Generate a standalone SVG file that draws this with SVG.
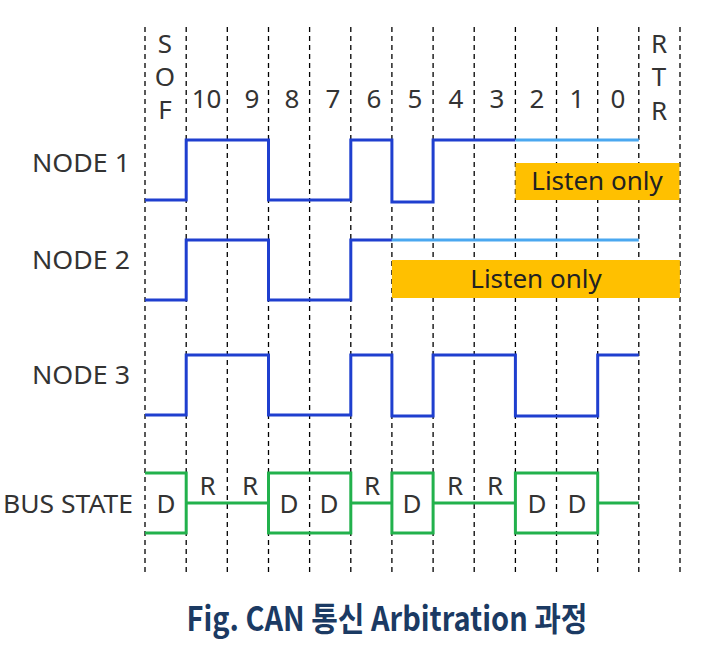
<svg xmlns="http://www.w3.org/2000/svg" width="712" height="659" viewBox="0 0 712 659">
<style>
.grid{stroke:#000;stroke-width:1.3;stroke-dasharray:5 4;fill:none}
.lbl{font-family:"Noto Sans","Liberation Sans",sans-serif;font-size:26px;fill:#333;text-anchor:end}
.bit{font-family:"Noto Sans","Liberation Sans",sans-serif;font-size:26px;fill:#333;text-anchor:middle}
.wave{stroke:#1f3fcf;stroke-width:3;fill:none}
.lite{stroke:#4aa8f0;stroke-width:3;fill:none}
.bus{stroke:#22b14c;stroke-width:3;fill:none}
.box{fill:#ffc000}
.lo{font-family:"Noto Sans","Liberation Sans",sans-serif;font-size:26px;fill:#222;text-anchor:middle}
</style>
<rect width="712" height="659" fill="#fff"/>
<g id="grid" class="grid">
<line x1="145" y1="27" x2="145" y2="572"/>
<line x1="186.2" y1="27" x2="186.2" y2="572"/>
<line x1="227.3" y1="27" x2="227.3" y2="572"/>
<line x1="268.5" y1="27" x2="268.5" y2="572"/>
<line x1="309.6" y1="27" x2="309.6" y2="572"/>
<line x1="350.8" y1="27" x2="350.8" y2="572"/>
<line x1="391.9" y1="27" x2="391.9" y2="572"/>
<line x1="433.1" y1="27" x2="433.1" y2="572"/>
<line x1="474.2" y1="27" x2="474.2" y2="572"/>
<line x1="515.4" y1="27" x2="515.4" y2="572"/>
<line x1="556.5" y1="27" x2="556.5" y2="572"/>
<line x1="597.7" y1="27" x2="597.7" y2="572"/>
<line x1="638.8" y1="27" x2="638.8" y2="572"/>
<line x1="680" y1="27" x2="680" y2="572"/>
</g>
<g id="bits">
<text class="bit" x="165" y="53">S</text>
<text class="bit" x="165" y="86">O</text>
<text class="bit" x="165" y="119">F</text>
<text class="bit" x="206.5" y="108">10</text>
<text class="bit" x="252" y="108">9</text>
<text class="bit" x="292" y="108">8</text>
<text class="bit" x="333" y="108">7</text>
<text class="bit" x="374" y="108">6</text>
<text class="bit" x="415" y="108">5</text>
<text class="bit" x="456" y="108">4</text>
<text class="bit" x="497" y="108">3</text>
<text class="bit" x="537" y="108">2</text>
<text class="bit" x="577" y="108">1</text>
<text class="bit" x="618" y="108">0</text>
<text class="bit" x="659" y="53">R</text>
<text class="bit" x="659" y="86">T</text>
<text class="bit" x="659" y="120">R</text>
</g>
<g id="node1">
<text class="lbl" x="130" y="172" textLength="98" lengthAdjust="spacingAndGlyphs">NODE 1</text>
<rect class="box" x="515.4" y="163" width="164" height="37"/>
<text class="lo" x="597" y="190">Listen only</text>
<path class="wave" d="M145,200 H186.2 V140 H268.5 V200 H350.8 V140 H391.9 V202 H433.1 V140 H515.4"/>
<path class="lite" d="M515.4,140 H638.8"/>
</g>
<g id="node2">
<text class="lbl" x="130" y="269" textLength="98" lengthAdjust="spacingAndGlyphs">NODE 2</text>
<rect class="box" x="391.9" y="260" width="288" height="38"/>
<text class="lo" x="536" y="288">Listen only</text>
<path class="wave" d="M145,300 H186.2 V240 H268.5 V300 H350.8 V240 H391.9"/>
<path class="lite" d="M391.9,240 H638.8"/>
</g>
<g id="node3">
<text class="lbl" x="130" y="384" textLength="98" lengthAdjust="spacingAndGlyphs">NODE 3</text>
<path class="wave" d="M145,415 H186.2 V355 H268.5 V415 H350.8 V355 H391.9 V416 H433.1 V355 H515.4 V416 H597.7 V355 H638.8"/>
</g>
<g id="bus">
<text class="lbl" x="133" y="513" textLength="130" lengthAdjust="spacingAndGlyphs">BUS STATE</text>
<path class="bus" d="M145,473 H186.2 V533 H145"/>
<path class="bus" d="M186.2,503 H268.5"/>
<rect class="bus" x="268.5" y="473" width="82.3" height="60"/>
<path class="bus" d="M350.8,503 H391.9"/>
<rect class="bus" x="391.9" y="473" width="41.2" height="60"/>
<path class="bus" d="M433.1,503 H515.4"/>
<rect class="bus" x="515.4" y="473" width="82.3" height="60"/>
<path class="bus" d="M597.7,503 H638.8"/>
<text class="bit" x="166" y="513">D</text>
<text class="bit" x="207.5" y="495">R</text>
<text class="bit" x="250" y="495">R</text>
<text class="bit" x="289" y="513">D</text>
<text class="bit" x="329" y="513">D</text>
<text class="bit" x="372" y="495">R</text>
<text class="bit" x="412" y="513">D</text>
<text class="bit" x="455" y="495">R</text>
<text class="bit" x="495" y="495">R</text>
<text class="bit" x="537" y="513">D</text>
<text class="bit" x="577" y="513">D</text>
</g>
<g id="caption">
<text x="387" y="631" text-anchor="middle" textLength="401" lengthAdjust="spacingAndGlyphs" font-family="'Noto Sans CJK KR','Noto Sans',sans-serif" font-weight="bold" font-size="33" fill="#1b3a63">Fig. CAN 통신 Arbitration 과정</text>
</g>
</svg>
